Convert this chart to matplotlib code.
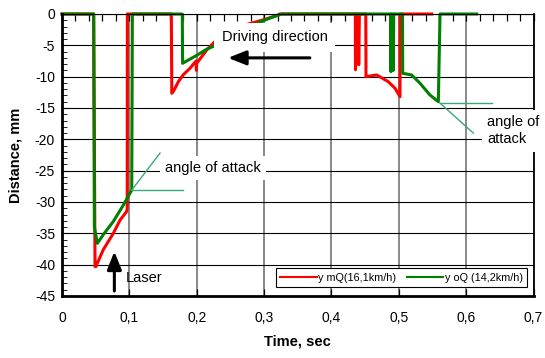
import matplotlib
matplotlib.use("Agg")
import matplotlib.pyplot as plt
from matplotlib.ticker import MultipleLocator

plt.rcParams['font.family'] = ['Liberation Sans', 'DejaVu Sans']
plt.rcParams['axes.unicode_minus'] = False

# red series: y mQ (16,1 km/h)
t_mq = [0, 0.047, 0.049, 0.0505, 0.0515, 0.0613, 0.0762, 0.0861, 0.096, 0.0968, 0.097,
        0.1623, 0.163, 0.165, 0.1678, 0.1727, 0.18, 0.19, 0.199, 0.1995, 0.2, 0.2148, 0.2271,
        0.25, 0.2717, 0.3, 0.321, 0.323,
        0.4355, 0.4357, 0.4365, 0.4398, 0.4405, 0.4415, 0.451, 0.4513, 0.4672, 0.4844,
        0.4944, 0.5018, 0.502, 0.549]
v_mq = [0, 0, -40.3, -40.3, -40.0, -37.6, -35.0, -32.9, -31.5, -31.0, 0,
        0, -12.65, -12.4, -11.85, -10.8, -9.7, -8.66, -7.5, -9.0, -7.87, -5.74, -4.4,
        -3.0, -1.75, -0.9, -0.15, 0,
        0, -8.9, 0, 0, -8.1, 0, 0, -10.0, -9.73, -10.8,
        -11.85, -13.2, 0, 0]

# green series: y oQ (14,2 km/h)
t_oq = [0, 0.047, 0.048, 0.0525, 0.0613, 0.0762, 0.091, 0.1035, 0.1044,
        0.1786, 0.179, 0.185, 0.2, 0.215, 0.2297, 0.255, 0.284, 0.305, 0.326,
        0.488, 0.4884, 0.489, 0.4912, 0.4918, 0.4925, 0.5055, 0.5058, 0.5191, 0.5315,
        0.546, 0.5587, 0.5612, 0.6156]
v_oq = [0, 0, -34.0, -36.6, -35.2, -33.1, -30.5, -28.1, 0,
        0, -7.87, -7.5, -6.6, -5.6, -4.94, -3.2, -1.75, -0.8, 0,
        0, -9.2, 0, 0, -9.0, 0, 0, -9.46, -9.73, -11.05,
        -12.9, -14.0, 0, 0]

x_ticks = [0, 0.1, 0.2, 0.3, 0.4, 0.5, 0.6, 0.7]
x_labels = ["0", "0,1", "0,2", "0,3", "0,4", "0,5", "0,6", "0,7"]
y_ticks = [0, -5, -10, -15, -20, -25, -30, -35, -40, -45]

fig = plt.figure(figsize=(5.45, 3.58), dpi=100)
ax = fig.add_axes([0.1138, 0.1732, 0.8651, 0.7877])

ax.plot(t_mq, v_mq, color='#ff0000', lw=2.2, label='y mQ(16,1km/h)', clip_on=False, zorder=2)
ax.plot(t_oq, v_oq, color='#008000', lw=2.2, label='y oQ (14,2km/h)', clip_on=False, zorder=2.1)

ax.set_xlim(0, 0.7)
ax.set_ylim(-45, 0)
ax.set_xticks(x_ticks, x_labels)
ax.set_yticks(y_ticks)
ax.xaxis.set_minor_locator(MultipleLocator(0.02))
ax.yaxis.set_minor_locator(MultipleLocator(1))

ax.set_axisbelow(True)
ax.yaxis.grid(True, color='black', lw=0.8)
ax.xaxis.grid(True, color='#808080', lw=1.3)

ax.tick_params(axis='x', which='both', direction='in', top=True, bottom=True, labelsize=10, pad=11)
ax.tick_params(axis='x', which='minor', bottom=False, length=5, width=0.9)
ax.tick_params(axis='x', which='major', length=5, width=0.9)
ax.tick_params(axis='y', which='both', direction='in', left=True, right=False, labelsize=10, pad=5)
ax.tick_params(axis='y', which='major', length=4.5)
ax.tick_params(axis='y', which='minor', length=3.5)

ax.spines['left'].set_linewidth(2.0)
ax.spines['bottom'].set_linewidth(2.0)
ax.spines['right'].set_linewidth(1.3)
ax.spines['top'].set_linewidth(0.8)

ax.set_xlabel('Time, sec', fontsize=10.5, fontweight='bold', labelpad=7)
ax.set_ylabel('Distance, mm', fontsize=10.5, fontweight='bold', labelpad=9)

# angle of attack helper lines
ang = '#3aa876'
ax.plot([0.1035, 0.1455], [-28.1, -22.2], color=ang, lw=1.0, zorder=2.5)
ax.plot([0.1035, 0.180], [-28.1, -28.1], color=ang, lw=1.0, zorder=2.5)
ax.plot([0.561, 0.638], [-14.2, -14.2], color=ang, lw=1.0, zorder=2.5, clip_on=False)
ax.plot([0.561, 0.6106], [-14.2, -19.0], color=ang, lw=1.0, zorder=2.5)

box = dict(boxstyle='square,pad=0.35', facecolor='white', edgecolor='none')
ax.text(0.3155, -3.75, 'Driving direction', fontsize=10.5, ha='center', va='center',
        bbox=dict(boxstyle='square,pad=0.5', facecolor='white', edgecolor='none'), zorder=3)
ax.text(0.153, -24.6, 'angle of attack', fontsize=10.5, ha='left', va='center', bbox=box, zorder=3)
ax.text(0.631, -18.6, 'angle of\nattack', fontsize=10.5, ha='left', va='center',
        linespacing=1.35, bbox=box, zorder=3, clip_on=False)
ax.text(0.095, -42.1, 'Laser', fontsize=10.5, ha='left', va='center', zorder=3)

arrow = dict(arrowstyle='-|>,head_length=0.9,head_width=0.36', color='black', lw=2.2,
             mutation_scale=12, shrinkA=0, shrinkB=0)
ax.annotate('', xy=(0.2465, -7.0), xytext=(0.368, -7.0), arrowprops=arrow, zorder=4)
ax.annotate('', xy=(0.0777, -37.9), xytext=(0.0777, -44.2), arrowprops=arrow, zorder=4)

leg = ax.legend(loc='lower right', bbox_to_anchor=(0.986, 0.032), borderaxespad=0,
                ncol=2, fontsize=7.8, handlelength=3.4, handletextpad=0.1,
                columnspacing=1.0, borderpad=0.4, fancybox=False, framealpha=1)
leg.get_frame().set_edgecolor('black')
leg.get_frame().set_linewidth(0.8)
for h in leg.get_lines():
    h.set_linewidth(1.5)

fig.savefig('out.png', dpi=100)
